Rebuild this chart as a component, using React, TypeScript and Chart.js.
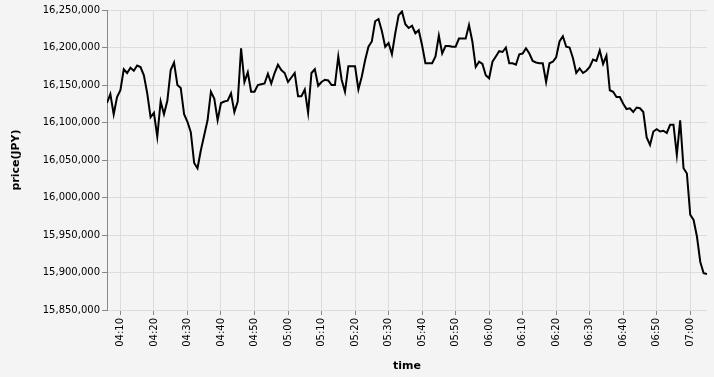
import React, { useEffect, useRef } from "react";
import { Chart, registerables } from "chart.js";

Chart.register(...registerables);

// first sample time (minutes after midnight) = 04:06, one sample per minute
const startMinute = 4 * 60 + 6;

const prices: number[] = [
  16126000, 16138000, 16111000, 16134000, 16143000, 16171000, 16166000, 16173000, 16169000, 16176000,
  16174000, 16163000, 16139000, 16107000, 16113000, 16081000, 16128000, 16111000, 16129000, 16170000,
  16180000, 16150000, 16146000, 16111000, 16101000, 16087000, 16046000, 16039000, 16063000, 16083000,
  16103000, 16141000, 16132000, 16103000, 16126000, 16128000, 16129000, 16139000, 16114000, 16128000,
  16199000, 16154000, 16167000, 16141000, 16141000, 16150000, 16151000, 16152000, 16165000, 16152000,
  16166000, 16177000, 16170000, 16166000, 16154000, 16160000, 16166000, 16135000, 16135000, 16144000,
  16113000, 16166000, 16171000, 16149000, 16154000, 16157000, 16156000, 16150000, 16150000, 16188000,
  16157000, 16141000, 16175000, 16175000, 16175000, 16144000, 16161000, 16183000, 16201000, 16208000,
  16235000, 16238000, 16222000, 16201000, 16206000, 16191000, 16219000, 16243000, 16248000, 16231000,
  16226000, 16229000, 16219000, 16223000, 16203000, 16179000, 16179000, 16179000, 16188000, 16216000,
  16192000, 16202000, 16202000, 16201000, 16201000, 16212000, 16212000, 16212000, 16230000, 16208000,
  16174000, 16181000, 16178000, 16163000, 16159000, 16181000, 16188000, 16195000, 16194000, 16200000,
  16179000, 16179000, 16177000, 16191000, 16192000, 16199000, 16192000, 16182000, 16180000, 16179000,
  16179000, 16154000, 16179000, 16181000, 16187000, 16208000, 16215000, 16201000, 16200000, 16186000,
  16166000, 16172000, 16166000, 16169000, 16174000, 16184000, 16182000, 16196000, 16178000, 16189000,
  16143000, 16141000, 16134000, 16134000, 16125000, 16118000, 16119000, 16114000, 16120000, 16119000,
  16114000, 16080000, 16070000, 16088000, 16091000, 16088000, 16089000, 16086000, 16097000, 16097000,
  16057000, 16103000, 16039000, 16032000, 15977000, 15970000, 15948000, 15914000, 15899000, 15898000,
];

// x tick positions in minutes after midnight (04:10 ... 07:00)
const xTickMinutes: number[] = [
  250, 260, 270, 280, 290, 300, 310, 320, 330, 340, 350, 360, 370, 380, 390, 400, 410, 420,
];

const yTicks: number[] = [
  15850000, 15900000, 15950000, 16000000, 16050000, 16100000, 16150000, 16200000, 16250000,
];

const FONT = "'DejaVu Sans', sans-serif";

function fmtTime(m: number): string {
  const h = Math.floor(m / 60);
  const mm = Math.round(m % 60);
  return String(h).padStart(2, "0") + ":" + String(mm).padStart(2, "0");
}

export default function App() {
  const ref = useRef<HTMLCanvasElement>(null);

  useEffect(() => {
    if (!ref.current) return;
    const points = prices.map((p, i) => ({ x: startMinute + i, y: p }));
    const chart = new Chart(ref.current, {
      type: "line",
      data: {
        datasets: [
          {
            data: points,
            borderColor: "#000",
            borderWidth: 2,
            pointRadius: 0,
            tension: 0,
            fill: false,
          },
        ],
      },
      options: {
        animation: false,
        responsive: false,
        maintainAspectRatio: false,
        layout: { padding: { left: 0, top: 10, right: 7, bottom: 0 } },
        plugins: { legend: { display: false }, tooltip: { enabled: false } },
        scales: {
          x: {
            type: "linear",
            min: startMinute,
            max: startMinute + prices.length - 1,
            afterBuildTicks: (s: any) => {
              s.ticks = xTickMinutes.map((v) => ({ value: v }));
            },
            afterFit: (s: any) => {
              s.height = 67;
            },
            ticks: {
              callback: (v: any) => fmtTime(Number(v)),
              maxRotation: 90,
              minRotation: 90,
              autoSkip: false,
              font: { family: FONT, size: 10 },
              color: "#000",
              padding: 3,
            },
            grid: { color: "#ddd", tickColor: "#888", tickLength: 5, lineWidth: 1 },
            border: { display: false },
            title: {
              display: true,
              text: "time",
              font: { family: FONT, size: 11, weight: "bold" },
              color: "#000",
              padding: { top: 4, bottom: 4 },
            },
          },
          y: {
            type: "linear",
            min: yTicks[0],
            max: yTicks[yTicks.length - 1],
            afterBuildTicks: (s: any) => {
              s.ticks = yTicks.map((v) => ({ value: v }));
            },
            afterFit: (s: any) => {
              s.width = 107;
            },
            ticks: {
              callback: (v: any) => Number(v).toLocaleString("en-US"),
              font: { family: FONT, size: 10 },
              color: "#000",
              padding: 2,
            },
            grid: { color: "#ddd", tickColor: "#888", tickLength: 5, lineWidth: 1 },
            border: { display: true, color: "#888", width: 1 },
            title: {
              display: true,
              text: "price(JPY)",
              font: { family: FONT, size: 11, weight: "bold" },
              color: "#000",
              padding: { top: 10, bottom: 4 },
            },
          },
        },
      },
    });
    return () => chart.destroy();
  }, []);

  return (
    <div
      style={{
        position: "fixed",
        left: 0,
        top: 0,
        width: 714,
        height: 377,
        background: "#f4f4f4",
      }}
    >
      <canvas ref={ref} width={714} height={377} style={{ display: "block" }} />
    </div>
  );
}
